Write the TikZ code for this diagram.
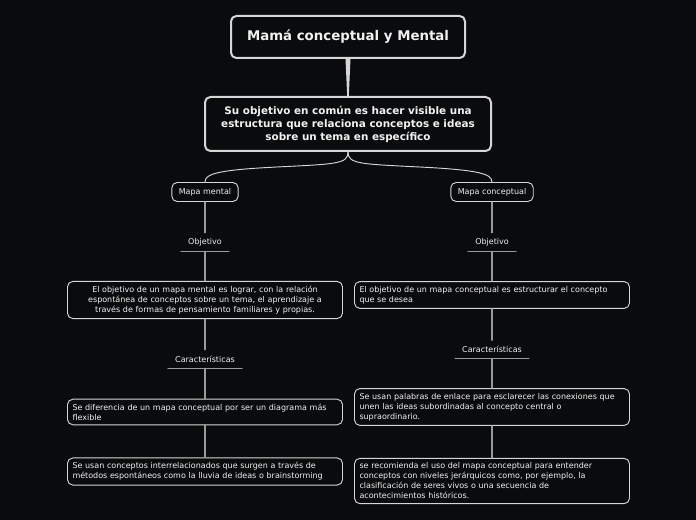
\documentclass[tikz,border=0pt]{standalone}
\usepackage{fontspec}
\setmainfont{DejaVu Sans}
\usepackage{xcolor}
\usetikzlibrary{calc}
\definecolor{bg}{HTML}{0A0B0D}
\definecolor{edge}{HTML}{D6D6D6}
\definecolor{wire}{HTML}{9A9A9A}
\definecolor{ink}{HTML}{F2F2F2}
\tikzset{
  box/.style={draw=edge, rounded corners=4pt, text=ink},
  topic/.style={box, line width=1.5pt, font=\fontsize{10}{12}\selectfont\bfseries,
    minimum width=175.5pt, minimum height=31.5pt},
  goal/.style={box, line width=1.5pt, font=\fontsize{7.8}{9.75}\selectfont\bfseries,
    align=center, minimum width=214.5pt, minimum height=40.5pt},
  branchbox/.style={box, line width=0.7pt, font=\fontsize{6}{7.5}\selectfont,
    inner xsep=5.25pt, inner ysep=0pt, minimum height=14.25pt},
  lbl/.style={text=ink, font=\fontsize{6}{7.5}\selectfont, inner xsep=5.25pt,
    inner ysep=0pt, minimum height=13.5pt},
  uline/.style={draw=wire, line width=0.8pt},
  detail/.style={box, line width=0.7pt, font=\fontsize{6}{7.5}\selectfont,
    text width=198.75pt, inner xsep=3.75pt, inner ysep=3.4pt},
  link/.style={draw=wire, line width=0.8pt},
  branch/.style={draw=edge, line width=0.7pt}
}
\begin{document}
\begin{tikzpicture}[x=0.75pt, y=-0.75pt, line cap=round, line join=round]
  \fill[bg] (0,0) rectangle (696,520);
  \useasboundingbox (0,0) rectangle (696,520);
  % main nodes
  \node[topic] (title) at (348,37) {Mamá conceptual y Mental};
  \node[goal] (goal) at (348,124) {Su objetivo en común es hacer visible una\\
    estructura que relaciona conceptos e ideas\\ sobre un tema en específico};
  \fill[edge] ($(title.south)+(-2.5,0)$) -- ($(title.south)+(2.5,0)$)
    -- ($(goal.north)+(0.8,0)$) -- ($(goal.north)+(-0.8,0)$) -- cycle;
  % branches
  \node[branchbox] (mm) at (205,192) {Mapa mental};
  \node[branchbox] (mc) at (492,192) {Mapa conceptual};
  \coordinate (midL) at ($(goal.south)!0.5!(mm.north)$);
  \coordinate (midR) at ($(goal.south)!0.5!(mc.north)$);
  \draw[branch] (goal.south) .. controls +(0,12) and +(60,-3) .. (midL)
    .. controls +(-60,3) and +(0,-8) .. (mm.north);
  \draw[branch] (goal.south) .. controls +(0,12) and +(-60,-3) .. (midR)
    .. controls +(60,3) and +(0,-8) .. (mc.north);
  % left column
  \node[lbl] (obL) at (205,242) {Objetivo};
  \node[detail, align=center] (dL1) at (205,300) {El objetivo de un mapa mental es lograr, con la relación\\
    espontánea de conceptos sobre un tema, el aprendizaje a\\
    través de formas de pensamiento familiares y propias.};
  \node[lbl] (carL) at (205,359) {Características};
  \node[detail, align=left] (dL2) at (205,412) {Se diferencia de un mapa conceptual por ser un diagrama más\\
    flexible};
  \node[detail, align=left] (dL3) at (205,471.5) {Se usan conceptos interrelacionados que surgen a través de\\
    métodos espontáneos como la lluvia de ideas o brainstorming};
  % right column
  \node[lbl] (obR) at (492,242) {Objetivo};
  \node[detail, align=left] (dR1) at (492,295) {El objetivo de un mapa conceptual es estructurar el concepto\\
    que se desea};
  \node[lbl] (carR) at (492,349.5) {Características};
  \node[detail, align=left] (dR2) at (492,407) {Se usan palabras de enlace para esclarecer las conexiones que\\
    unen las ideas subordinadas al concepto central o\\
    supraordinario.};
  \node[detail, align=left] (dR3) at (492,481) {se recomienda el uso del mapa conceptual para entender\\
    conceptos con niveles jerárquicos como, por ejemplo, la\\
    clasificación de seres vivos o una secuencia de\\
    acontecimientos históricos.};
  % underlines
  \foreach \n in {obL,carL,obR,carR}
    \draw[uline] (\n.south west) -- (\n.south east);
  % connectors
  \draw[link] (mm.south) -- (obL.north);
  \draw[link] (obL.south) -- (dL1.north);
  \draw[link] (dL1.south) -- (carL.north);
  \draw[link] (carL.south) -- (dL2.north);
  \draw[link] (dL2.south) -- (dL3.north);
  \draw[link] (mc.south) -- (obR.north);
  \draw[link] (obR.south) -- (dR1.north);
  \draw[link] (dR1.south) -- (carR.north);
  \draw[link] (carR.south) -- (dR2.north);
  \draw[link] (dR2.south) -- (dR3.north);
\end{tikzpicture}
\end{document}
